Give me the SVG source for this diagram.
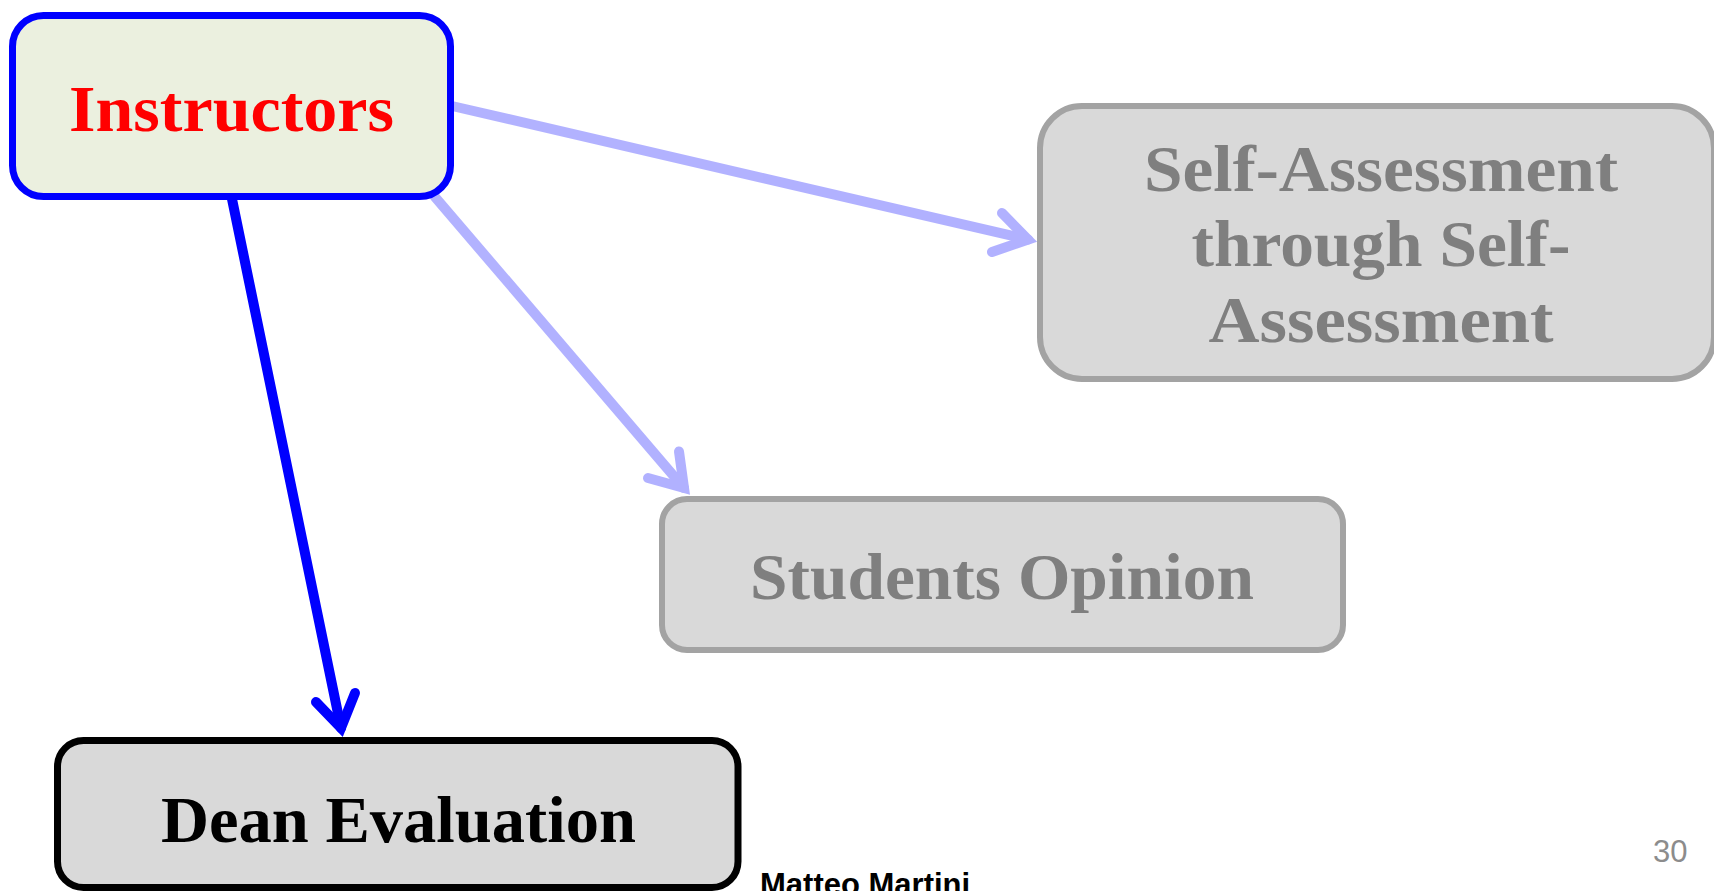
<svg xmlns="http://www.w3.org/2000/svg" width="1714" height="891" viewBox="0 0 1714 891">
  <style>
    .box-grey { fill: #D9D9D9; stroke: #A3A3A3; stroke-width: 6; }
    .label { font-family: "Liberation Serif", "DejaVu Serif", serif; font-weight: bold; text-anchor: middle; }
    .label-grey { fill: #7F7F7F; font-size: 65px; }
    .wire { fill: none; stroke: #0000FF; stroke-width: 10; stroke-linecap: round; stroke-linejoin: miter; }
    .faint { opacity: 0.3; }
    .footer { font-family: "Liberation Sans", Arial, sans-serif; }
  </style>
  <rect width="1714" height="891" fill="#FFFFFF"/>

  <!-- source node -->
  <g id="node-instructors">
    <rect x="12.5" y="15.5" width="438" height="181" rx="31" fill="#EBF0DF" stroke="#0000FF" stroke-width="7"/>
    <text class="label" x="231.5" y="131" font-size="66" fill="#FF0000" textLength="325" lengthAdjust="spacingAndGlyphs">Instructors</text>
  </g>

  <!-- evaluation targets -->
  <g id="node-self-assessment">
    <rect class="box-grey" x="1040" y="106" width="674" height="273" rx="42"/>
    <text class="label label-grey" x="1381" y="191" textLength="474" lengthAdjust="spacingAndGlyphs">Self-Assessment</text>
    <text class="label label-grey" x="1381" y="266" textLength="379" lengthAdjust="spacingAndGlyphs">through Self-</text>
    <text class="label label-grey" x="1381" y="342" textLength="345" lengthAdjust="spacingAndGlyphs">Assessment</text>
  </g>

  <g id="node-students-opinion">
    <rect class="box-grey" x="662" y="499" width="681" height="151" rx="25"/>
    <text class="label label-grey" x="1002" y="599" font-size="66" textLength="504" lengthAdjust="spacingAndGlyphs">Students Opinion</text>
  </g>

  <g id="node-dean-evaluation">
    <rect x="57.5" y="740.5" width="680.5" height="147" rx="26" fill="#D9D9D9" stroke="#000000" stroke-width="7"/>
    <text class="label" x="398.5" y="842" font-size="66" fill="#000000" textLength="475" lengthAdjust="spacingAndGlyphs">Dean Evaluation</text>
  </g>

  <!-- connectors -->
  <g id="connectors">
    <g id="edge-instructors-self" class="faint">
      <path class="wire" d="M452,106 L1028,239.5"/>
      <path class="wire" d="M1002,213 L1028,239.5 L992,252"/>
    </g>
    <g id="edge-instructors-students" class="faint">
      <path class="wire" d="M435,197 L684,488"/>
      <path class="wire" d="M679,451.5 L684,488 L648,478"/>
    </g>
    <g id="edge-instructors-dean">
      <path class="wire" d="M232,199 L341,728"/>
      <path class="wire" d="M316,702 L341,728 L355,693"/>
    </g>
  </g>

  <!-- slide footer -->
  <text class="footer" x="760" y="895" font-size="31" font-weight="bold" fill="#000000">Matteo Martini</text>
  <text class="footer" x="1653" y="862" font-size="31" fill="#8C8C8C">30</text>
</svg>
